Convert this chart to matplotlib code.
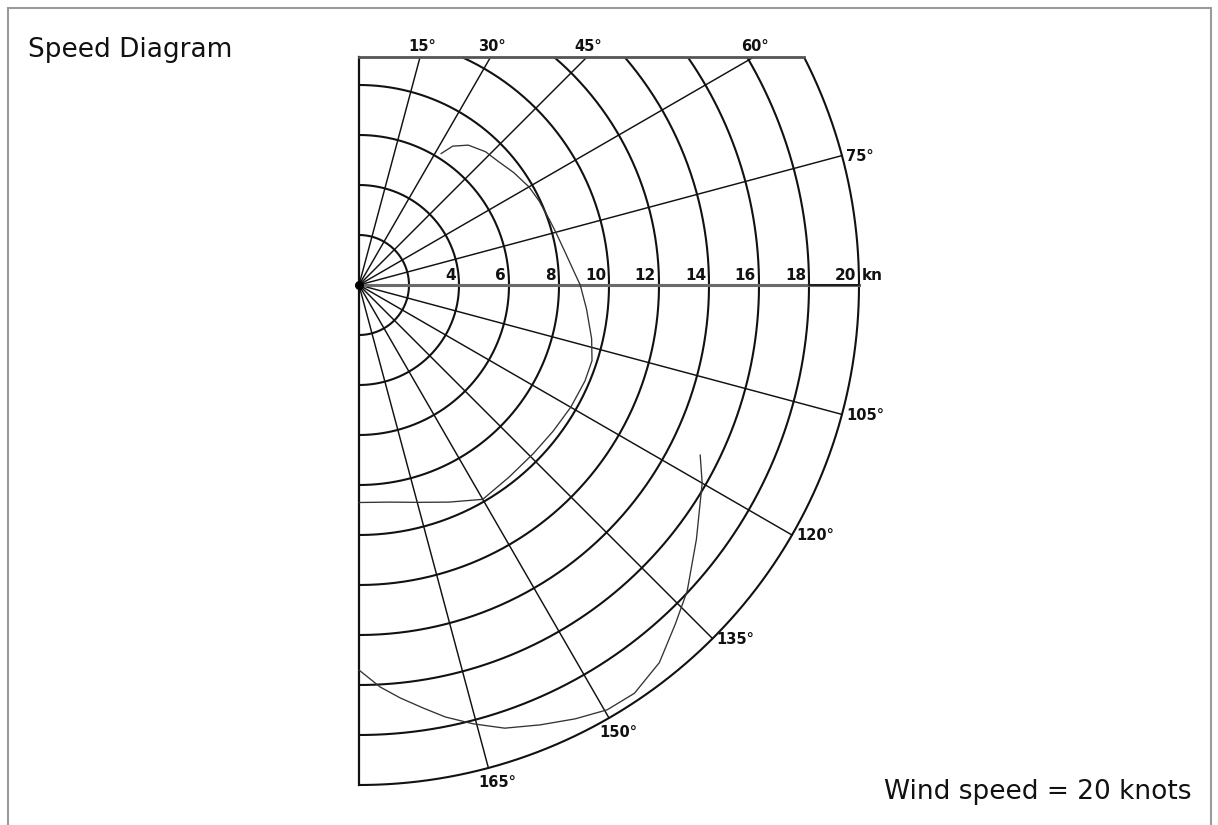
import numpy as np
import matplotlib.pyplot as plt
from matplotlib.patches import Rectangle

# Speed rings (knots) and their labels
ring_speeds = [2, 4, 6, 8, 10, 12, 14, 16, 18, 20]
ring_labels = ["", "4", "6", "8", "10", "12", "14", "16", "18", "20"]
speed_unit = "kn"

# Heading rays (degrees off the wind) and their labels
ray_angles = [15, 30, 45, 60, 75, 105, 120, 135, 150, 165]
ray_labels = ["15°", "30°", "45°", "60°", "75°", "105°", "120°", "135°", "150°", "165°"]

# Upwind cut-off of the diagram and outer ring (knots)
upwind_limit = 9.1
max_speed = 20

# Boat speed curve (heading in degrees, speed in knots)
upwind_angles = [32, 34, 38, 43.5, 48.5, 54, 60, 65, 71, 75, 81, 87, 90, 96,
                 103, 108, 113, 120, 127, 134, 142, 150, 157.5, 165, 172, 180]
upwind_speeds = [6.2, 6.7, 7.1, 7.35, 7.45, 7.65, 7.85, 7.95, 8.05, 8.15, 8.35,
                 8.65, 8.85, 9.15, 9.55, 9.8, 9.82, 9.78, 9.72, 9.7, 9.75, 9.9,
                 9.4, 9.0, 8.77, 8.7]

# Downwind (spinnaker) speed curve
downwind_angles = [116.5, 120, 127, 133, 137, 141.5, 146, 149.7, 153.5, 157.6,
                   161.8, 165.4, 168.7, 171.4, 174.3, 177, 180]
downwind_speeds = [15.25, 15.85, 16.9, 17.95, 18.55, 19.3, 19.7, 19.68, 19.39,
                   19.03, 18.66, 18.14, 17.62, 17.11, 16.6, 16.1, 15.4]

title_text = "Speed Diagram"
wind_text = "Wind speed = 20 knots"

W, H = 1218, 825
CX, CY, PX = 359, 285, 25.0   # pole position and pixels per knot

fig = plt.figure(figsize=(W / 100, H / 100), dpi=100)
ax = fig.add_axes([0, 0, 1, 1])
ax.set_xlim(-CX / PX, (W - CX) / PX)
ax.set_ylim((CY - H) / PX, CY / PX)
ax.set_aspect("equal")
ax.axis("off")


def to_xy(theta_deg, r):
    t = np.radians(np.asarray(theta_deg, dtype=float))
    r = np.asarray(r, dtype=float)
    return r * np.sin(t), r * np.cos(t)


# speed rings, cut by the upwind limit
for r in ring_speeds:
    start = np.degrees(np.arccos(min(1.0, upwind_limit / r)))
    th = np.linspace(start, 180, 500)
    x, y = to_xy(th, np.full_like(th, r))
    ax.plot(x, y, color="#111111", lw=1.5, solid_capstyle="butt", zorder=2)

# heading rays
label_font = dict(fontsize=10.5, fontweight="bold", color="#111111",
                  family="DejaVu Sans")
for ang, lab in zip(ray_angles, ray_labels):
    c = np.cos(np.radians(ang))
    r_end = min(max_speed, upwind_limit / c) if c > 0 else max_speed
    x, y = to_xy([0, ang], [0, r_end])
    ax.plot(x, y, color="#111111", lw=1.05, zorder=2)
    ex, ey = x[1], y[1]
    if r_end < max_speed:
        ax.annotate(lab, (ex, ey), xytext=(2, 3), textcoords="offset pixels",
                    ha="center", va="bottom", **label_font)
    elif ang >= 150:
        ax.annotate(lab, (ex, ey), xytext=(-10, -7), textcoords="offset pixels",
                    ha="left", va="top", **label_font)
    else:
        ax.annotate(lab, (ex, ey), xytext=(4, -1), textcoords="offset pixels",
                    ha="left", va="center", **label_font)

# beam-reach axis
ax.plot([0, max_speed], [0, 0], color="#6a6a6a", lw=2.2, zorder=3)
ax.plot([ring_speeds[-2], max_speed], [0, 0], color="#111111", lw=1.2, zorder=3)

# wind axis and upwind cut-off line
ax.plot([0, 0], [upwind_limit, -max_speed], color="#111111", lw=1.6, zorder=3)
ax.plot([0, np.sqrt(max_speed ** 2 - upwind_limit ** 2)],
        [upwind_limit, upwind_limit], color="#555555", lw=2.0, zorder=3)
ax.plot([0], [0], "o", color="#000000", ms=5.5, zorder=4)

# ring speed labels along the beam axis
ring_font = dict(label_font, fontsize=11)
for r, lab in zip(ring_speeds, ring_labels):
    if lab:
        ax.annotate(lab, (r, 0), xytext=(-3, 2), textcoords="offset pixels",
                    ha="right", va="bottom", **ring_font)
ax.annotate(speed_unit, (max_speed, 0), xytext=(3, 2), textcoords="offset pixels",
            ha="left", va="bottom", **ring_font)

# speed curves
ux, uy = to_xy(upwind_angles, upwind_speeds)
ax.plot(ux, uy, color="#333333", lw=0.95, zorder=3, solid_joinstyle="round")
dx, dy = to_xy(downwind_angles, downwind_speeds)
ax.plot(dx, dy, color="#333333", lw=0.95, zorder=3, solid_joinstyle="round")

# captions
fig.text(28 / W, 1 - 37 / H, title_text, ha="left", va="top",
         fontsize=19, color="#111111", family="DejaVu Sans")
fig.text(1192 / W, 1 - 779 / H, wind_text, ha="right", va="top",
         fontsize=19, color="#111111", family="DejaVu Sans")

# outer frame
fig.patches.append(Rectangle((8 / W, -0.01), (1211 - 8) / W, 1.01 - 8 / H,
                             transform=fig.transFigure, fill=False,
                             edgecolor="#9a9a9a", lw=1.5))

fig.savefig("out.png", dpi=100)
